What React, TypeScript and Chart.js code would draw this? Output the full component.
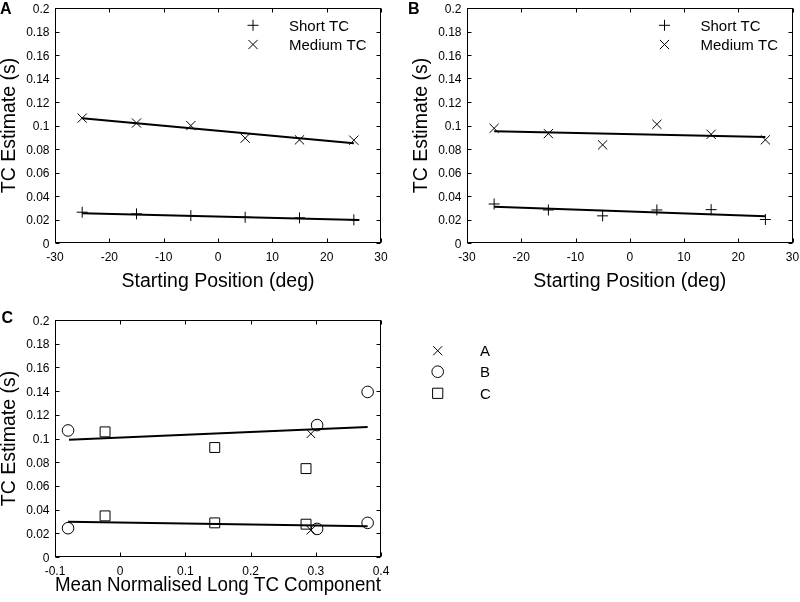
import React, { useEffect, useRef } from 'react';
import { Chart, registerables } from 'chart.js';

Chart.register(...registerables);

const FONT = "'Liberation Sans', Arial, Helvetica, sans-serif";

// ---------- Data ----------
const startPositions = [-25, -15, -5, 5, 15, 25];

// Panel A
const aShortTC = [0.0262, 0.0248, 0.0233, 0.0219, 0.0214, 0.0197];
const aMediumTC = [0.1063, 0.1021, 0.0999, 0.0892, 0.0878, 0.0875];
const aShortFitX = [-25, 26];
const aShortFitY = [0.0254, 0.0196];
const aMediumFitX = [-25, 25];
const aMediumFitY = [0.1062, 0.0848];

// Panel B
const bShortTC = [0.0332, 0.0281, 0.0231, 0.0281, 0.0284, 0.02];
const bMediumTC = [0.0976, 0.0931, 0.0835, 0.101, 0.0925, 0.0878];
const bShortFitX = [-25, 25];
const bShortFitY = [0.0309, 0.0228];
const bMediumFitX = [-25, 25];
const bMediumFitY = [0.0951, 0.0903];

// Panel C
const cSubjectAX = [0.2925, 0.2925];
const cSubjectAY = [0.104, 0.0226];
const cSubjectBX = [-0.08, -0.08, 0.302, 0.302, 0.3795, 0.3795];
const cSubjectBY = [0.1068, 0.0243, 0.1113, 0.0237, 0.1393, 0.0288];
const cSubjectCX = [-0.0232, -0.0232, 0.145, 0.145, 0.285, 0.285];
const cSubjectCY = [0.1056, 0.0347, 0.0924, 0.0288, 0.0746, 0.0277];
const cUpperFitX = [-0.0785, 0.3795];
const cUpperFitY = [0.0989, 0.1096];
const cLowerFitX = [-0.08, 0.3795];
const cLowerFitY = [0.0297, 0.026];

const legendAB = ['Short TC', 'Medium TC'];
const legendC = ['A', 'B', 'C'];

const yTitle = 'TC Estimate (s)';
const xTitleAB = 'Starting Position (deg)';
const xTitleC = 'Mean Normalised Long TC Component';

// ---------- helpers ----------
const pts = (xs: number[], ys: number[]) => xs.map((x, i) => ({ x, y: ys[i] }));

const fmt = (v: any) => String(Math.round(Number(v) * 1000) / 1000);

function drawMarker(ctx: CanvasRenderingContext2D, style: string, x: number, y: number, r: number) {
  ctx.beginPath();
  if (style === 'cross') {
    ctx.moveTo(x - r, y);
    ctx.lineTo(x + r, y);
    ctx.moveTo(x, y - r);
    ctx.lineTo(x, y + r);
  } else if (style === 'crossRot') {
    const d = r * Math.SQRT1_2;
    ctx.moveTo(x - d, y - d);
    ctx.lineTo(x + d, y + d);
    ctx.moveTo(x + d, y - d);
    ctx.lineTo(x - d, y + d);
  } else if (style === 'circle') {
    ctx.arc(x, y, r, 0, Math.PI * 2);
  } else if (style === 'rect') {
    const s = r * Math.SQRT1_2;
    ctx.rect(x - s, y - s, 2 * s, 2 * s);
  }
  ctx.stroke();
}

const TICK_FONT = `12px ${FONT}`;

const decoPlugin = {
  id: 'deco',
  afterDraw(chart: any, _args: any, opts: any) {
    const { ctx, chartArea } = chart;
    const { left, top, right, bottom } = chartArea;
    const xs = chart.scales.x;
    const ys = chart.scales.y;
    ctx.save();
    ctx.strokeStyle = '#000';
    ctx.lineWidth = 1;
    const L = Math.round(left) + 0.5;
    const R = Math.round(right) - 0.5;
    const T = Math.round(top) + 0.5;
    const B = Math.round(bottom) - 0.5;
    ctx.strokeRect(L, T, R - L, B - T);
    const TL = 4;
    ctx.beginPath();
    xs.ticks.forEach((t: any) => {
      const px = Math.round(xs.getPixelForValue(t.value)) + 0.5;
      ctx.moveTo(px, B);
      ctx.lineTo(px, B - TL);
      ctx.moveTo(px, T);
      ctx.lineTo(px, T + TL);
    });
    ys.ticks.forEach((t: any) => {
      const py = Math.round(ys.getPixelForValue(t.value)) + 0.5;
      ctx.moveTo(L, py);
      ctx.lineTo(L + TL, py);
      ctx.moveTo(R, py);
      ctx.lineTo(R - TL, py);
    });
    ctx.stroke();

    // tick labels, from the scales' own ticks
    ctx.fillStyle = '#000';
    ctx.font = TICK_FONT;
    ctx.textAlign = 'center';
    ctx.textBaseline = 'alphabetic';
    xs.ticks.forEach((t: any) => {
      ctx.fillText(fmt(t.value), xs.getPixelForValue(t.value), bottom + 17.5);
    });
    ctx.textAlign = 'right';
    ys.ticks.forEach((t: any) => {
      ctx.fillText(fmt(t.value), left - 5.5, ys.getPixelForValue(t.value) + 4.5);
    });

    // panel letter
    if (opts && opts.letter) {
      ctx.fillStyle = '#000';
      ctx.font = `bold 16px ${FONT}`;
      ctx.textAlign = 'left';
      ctx.textBaseline = 'alphabetic';
      ctx.fillText(opts.letter, opts.letterX, opts.letterY);
    }

    // legend
    if (opts && opts.legend) {
      opts.legend.forEach((it: any) => {
        const mx = it.relRight ? right + it.mx : it.mx;
        const tx = it.relRight ? right + it.tx : it.tx;
        ctx.strokeStyle = '#000';
        ctx.lineWidth = 1;
        drawMarker(ctx, it.style, mx, it.my, it.r);
        ctx.fillStyle = '#000';
        ctx.font = `15px ${FONT}`;
        ctx.textAlign = 'left';
        ctx.textBaseline = 'alphabetic';
        ctx.fillText(it.text, tx, it.my + 5.4);
      });
    }
    ctx.restore();
  },
};

function scatterSet(data: any[], style: string, r: number) {
  return {
    data,
    showLine: false,
    pointStyle: style,
    pointRadius: r,
    pointHoverRadius: r,
    pointBorderColor: '#000',
    pointBackgroundColor: 'rgba(0,0,0,0)',
    pointBorderWidth: 1,
    borderColor: '#000',
    backgroundColor: 'rgba(0,0,0,0)',
  };
}

function fitSet(data: any[]) {
  return {
    data,
    showLine: true,
    pointRadius: 0,
    pointHoverRadius: 0,
    borderColor: '#000',
    borderWidth: 2,
    fill: false,
    tension: 0,
  };
}

function makeOptions(p: any) {
  const titleFont = { family: FONT, size: 19.5, lineHeight: 1 };
  return {
    responsive: false,
    maintainAspectRatio: false,
    animation: false,
    devicePixelRatio: 1,
    events: [],
    layout: { padding: p.padding },
    plugins: {
      legend: { display: false },
      tooltip: { enabled: false },
      deco: p.deco,
    },
    scales: {
      x: {
        type: 'linear',
        position: 'bottom',
        min: p.xMin,
        max: p.xMax,
        ticks: {
          display: false,
          stepSize: p.xStep,
          autoSkip: false,
          maxRotation: 0,
          minRotation: 0,
          callback: fmt,
        },
        grid: { display: false, drawTicks: false },
        border: { display: false },
        title: {
          display: true,
          text: p.xTitle,
          color: '#000',
          font: titleFont,
          padding: { top: 0, bottom: p.xTitlePad },
        },
        afterFit: (s: any) => {
          s.height = p.xH;
        },
      },
      y: {
        type: 'linear',
        position: 'left',
        min: 0,
        max: 0.2,
        ticks: {
          display: false,
          stepSize: 0.02,
          autoSkip: false,
          callback: fmt,
        },
        grid: { display: false, drawTicks: false },
        border: { display: false },
        title: {
          display: true,
          text: yTitle,
          color: '#000',
          font: titleFont,
          padding: { top: 0, bottom: 0 },
        },
        afterFit: (s: any) => {
          s.width = 55;
        },
      },
    },
  };
}

export default function App() {
  const aRef = useRef<HTMLCanvasElement>(null);
  const bRef = useRef<HTMLCanvasElement>(null);
  const cRef = useRef<HTMLCanvasElement>(null);

  useEffect(() => {
    const abLegend = [
      { style: 'cross', r: 5.5, mx: -128, my: 25.3, tx: -92, text: legendAB[0], relRight: true },
      { style: 'crossRot', r: 6.5, mx: -128, my: 44.5, tx: -92, text: legendAB[1], relRight: true },
    ];

    const chartA = new Chart(aRef.current as HTMLCanvasElement, {
      type: 'scatter',
      data: {
        datasets: [
          scatterSet(pts(startPositions, aShortTC), 'cross', 5.5),
          scatterSet(pts(startPositions, aMediumTC), 'crossRot', 6.5),
          fitSet(pts(aShortFitX, aShortFitY)),
          fitSet(pts(aMediumFitX, aMediumFitY)),
        ],
      } as any,
      options: makeOptions({
        padding: { left: 0, top: 8, right: 19, bottom: 0 },
        xMin: -30,
        xMax: 30,
        xStep: 10,
        xTitle: xTitleAB,
        xTitlePad: 9,
        xH: 57,
        deco: { letter: 'A', letterX: 0, letterY: 13.5, legend: abLegend },
      }) as any,
      plugins: [decoPlugin],
    });

    const chartB = new Chart(bRef.current as HTMLCanvasElement, {
      type: 'scatter',
      data: {
        datasets: [
          scatterSet(pts(startPositions, bShortTC), 'cross', 5.5),
          scatterSet(pts(startPositions, bMediumTC), 'crossRot', 6.5),
          fitSet(pts(bShortFitX, bShortFitY)),
          fitSet(pts(bMediumFitX, bMediumFitY)),
        ],
      } as any,
      options: makeOptions({
        padding: { left: 12, top: 8, right: 7, bottom: 0 },
        xMin: -30,
        xMax: 30,
        xStep: 10,
        xTitle: xTitleAB,
        xTitlePad: 9,
        xH: 57,
        deco: { letter: 'B', letterX: 8, letterY: 13.5, legend: abLegend },
      }) as any,
      plugins: [decoPlugin],
    });

    const cLegend = [
      { style: 'crossRot', r: 6.4, mx: 437.7, my: 50.7, tx: 480, text: legendC[0] },
      { style: 'circle', r: 5.8, mx: 437.7, my: 71.7, tx: 480, text: legendC[1] },
      { style: 'rect', r: 7.2, mx: 437.7, my: 93.3, tx: 480, text: legendC[2] },
    ];

    const chartC = new Chart(cRef.current as HTMLCanvasElement, {
      type: 'scatter',
      data: {
        datasets: [
          scatterSet(pts(cSubjectAX, cSubjectAY), 'crossRot', 6),
          scatterSet(pts(cSubjectBX, cSubjectBY), 'circle', 5.8),
          scatterSet(pts(cSubjectCX, cSubjectCY), 'rect', 7),
          fitSet(pts(cUpperFitX, cUpperFitY)),
          fitSet(pts(cLowerFitX, cLowerFitY)),
        ],
      } as any,
      options: makeOptions({
        padding: { left: 0, top: 20, right: 419, bottom: 0 },
        xMin: -0.1,
        xMax: 0.4,
        xStep: 0.1,
        xTitle: xTitleC,
        xTitlePad: 7,
        xH: 45,
        deco: { letter: 'C', letterX: 1.5, letterY: 23, legend: cLegend },
      }) as any,
      plugins: [decoPlugin],
    });

    return () => {
      chartA.destroy();
      chartB.destroy();
      chartC.destroy();
    };
  }, []);

  return (
    <div style={{ position: 'absolute', left: 0, top: 0, width: 800, height: 602, background: '#fff', overflow: 'hidden' }}>
      <canvas ref={aRef} width={400} height={300} style={{ position: 'absolute', left: 0, top: 0, width: 400, height: 300 }} />
      <canvas ref={bRef} width={400} height={300} style={{ position: 'absolute', left: 400, top: 0, width: 400, height: 300 }} />
      <canvas ref={cRef} width={800} height={302} style={{ position: 'absolute', left: 0, top: 300, width: 800, height: 302 }} />
    </div>
  );
}
